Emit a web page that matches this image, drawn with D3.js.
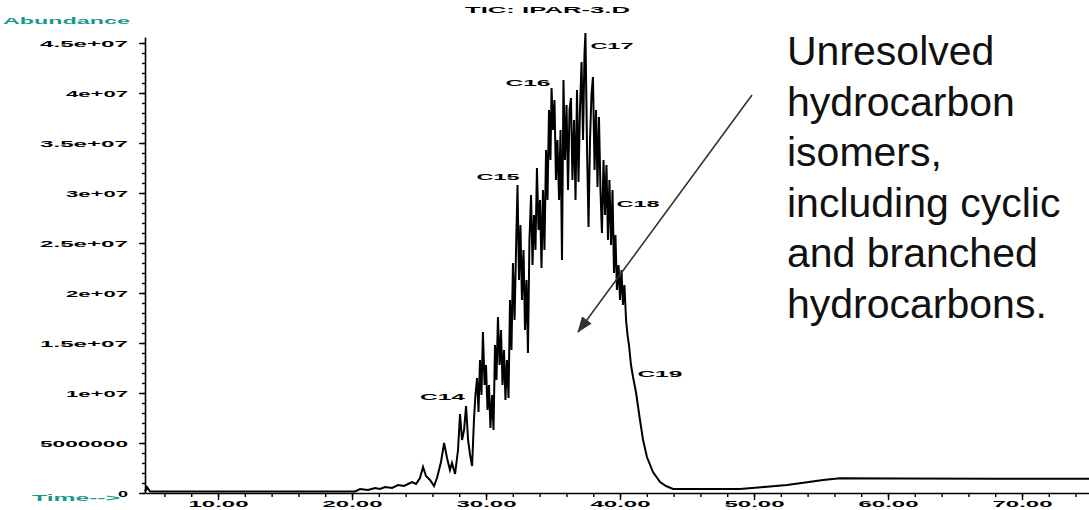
<!DOCTYPE html>
<html>
<head>
<meta charset="utf-8">
<script src="https://cdn.jsdelivr.net/npm/d3@7/dist/d3.min.js"></script>
<style>
  html, body { margin: 0; padding: 0; background: #fff; }
  svg { display: block; }
</style>
</head>
<body>
<svg id="chart" width="1089" height="510"></svg>
<script>
// Total ion chromatogram: retention time (min) and abundance (millions of counts)
const retentionTime = [
  4.55, 4.70, 4.93, 20.22, 20.60, 21.19, 21.72, 22.09, 22.46, 22.99,
  23.43, 23.88, 24.18, 24.48, 24.78, 25.07, 25.30, 25.52, 25.82, 26.12,
  26.34, 26.64, 26.87, 27.09, 27.31, 27.46, 27.69, 27.91, 28.06, 28.21,
  28.36, 28.51, 28.66, 28.81, 28.96,
  29.10, 29.21, 29.33, 29.44, 29.55, 29.66, 29.77, 29.89, 30.00, 30.11,
  30.22, 30.33, 30.45, 30.56, 30.67, 30.78, 30.89, 31.01, 31.12, 31.23,
  31.34, 31.45, 31.56, 31.68, 31.79, 31.90, 32.01, 32.13, 32.24, 32.35,
  32.46, 32.57, 32.68, 32.80, 32.91, 33.02, 33.13, 33.24, 33.36, 33.47,
  33.58, 33.69, 33.80, 33.92, 34.03, 34.14, 34.25, 34.36, 34.48, 34.59,
  34.70, 34.81, 34.89, 35.00, 35.11, 35.22, 35.33, 35.45, 35.56, 35.67,
  35.78, 35.89, 36.01, 36.12, 36.23, 36.34, 36.45, 36.57, 36.68, 36.79,
  36.90, 37.01, 37.13, 37.24, 37.35, 37.42, 37.54, 37.65, 37.76, 37.87,
  37.98, 38.10, 38.21, 38.32, 38.43, 38.54, 38.65, 38.77, 38.88, 38.99,
  39.10, 39.21, 39.33, 39.44, 39.55, 39.66, 39.77, 39.89, 40.00, 40.11,
  40.22, 40.33, 40.45, 40.56, 40.67, 40.82, 40.97, 41.19, 41.49,
  41.72, 42.01, 42.46, 42.99, 43.43, 43.96,
  48.96, 50.97, 52.46, 53.96, 55.15, 56.42, 60.90, 68.36, 75.00
];
const abundanceM = [
  0.15, 0.6, 0.15, 0.15, 0.4, 0.3, 0.5, 0.4, 0.6, 0.5,
  0.8, 0.7, 0.9, 1.1, 0.9, 1.5, 2.6, 1.7, 1.3, 0.7,
  1.5, 3.1, 5.0, 3.5, 2.3, 3.0, 1.9, 4.3, 7.9, 5.3,
  6.3, 8.7, 5.3, 3.8, 2.7,
  7.3, 9.8, 11.5, 8.1, 13.3, 9.8, 16.1, 10.8, 12.8, 8.3,
  10.8, 6.5, 9.8, 6.3, 14.8, 11.3, 17.6, 12.8, 16.3, 10.8,
  14.3, 9.3, 13.3, 9.5, 19.3, 14.3, 23.0, 17.3, 24.3, 30.8,
  21.3, 26.8, 19.3, 24.3, 16.3, 21.3, 14.0, 25.3, 29.8, 22.8,
  27.8, 24.3, 32.5, 26.3, 29.3, 22.5, 30.3, 24.3, 34.3, 29.3,
  38.3, 33.3, 40.5, 36.3, 39.3, 31.3, 35.3, 29.3, 36.3, 23.3,
  41.3, 33.3, 38.8, 30.3, 38.3, 39.5, 31.3, 37.3, 29.3, 40.3,
  31.1, 38.3, 43.1, 35.3, 44.0, 46.0, 34.3, 26.6, 35.3, 39.8,
  41.6, 32.3, 38.3, 30.6, 37.6, 30.3, 26.0, 33.3, 27.8, 32.8,
  25.3, 31.3, 24.8, 30.3, 22.0, 25.8, 20.3, 22.8, 19.3, 22.3,
  18.8, 20.8, 17.3, 15.8, 14.8, 12.8, 11.6, 10.1, 7.3,
  5.3, 3.6, 2.1, 1.1, 0.7, 0.4,
  0.4, 0.63, 0.8, 1.07, 1.3, 1.47, 1.45, 1.43, 1.43
];

// n-alkane peak labels
const peakNames = ["C14", "C15", "C16", "C17", "C18", "C19"];
const peakTimes = [25.3, 32.35, 34.89, 37.42, 39.6, 41.0];
const peakLabelAbundanceM = [9.6, 31.6, 41.0, 44.7, 28.9, 11.9];

// Axis ticks
const yTickValues = [0, 5e6, 1e7, 1.5e7, 2e7, 2.5e7, 3e7, 3.5e7, 4e7, 4.5e7];
const yTickLabels = ["0", "5000000", "1e+07", "1.5e+07", "2e+07", "2.5e+07", "3e+07", "3.5e+07", "4e+07", "4.5e+07"];
const xTickValues = [10, 20, 30, 40, 50, 60, 70];
const xTickLabels = ["10.00", "20.00", "30.00", "40.00", "50.00", "60.00", "70.00"];

const annotationLines = [
  "Unresolved",
  "hydrocarbon",
  "isomers,",
  "including cyclic",
  "and branched",
  "hydrocarbons."
];

const UNIT = 1e6;
const svg = d3.select("#chart");
const teal = "#17998f";
const labelFont = "'Liberation Sans', Arial, sans-serif";

const x = d3.scaleLinear().domain([4.55, 75.0]).range([145, 1089]);
const y = d3.scaleLinear().domain([0, 4.56e7]).range([493, 37]);

// stretched instrument-style text
function wideText(sel, txt, w, size) {
  sel.text(txt)
    .attr("font-family", labelFont)
    .attr("font-weight", "bold")
    .attr("font-size", size || 9)
    .attr("textLength", w)
    .attr("lengthAdjust", "spacingAndGlyphs");
  return sel;
}

// Y axis: minor ticks every 1e6, major every 5e6
const yMinor = d3.range(0, 4.56e7, 1e6);
svg.append("g")
  .attr("transform", `translate(${x.range()[0]},0)`)
  .call(d3.axisLeft(y).tickValues(yMinor).tickSize(3).tickSizeOuter(0).tickFormat(""))
  .call(g => g.select(".domain").attr("stroke", "#000").attr("stroke-width", 1.6))
  .call(g => g.selectAll(".tick line").attr("stroke", "#000").attr("stroke-width", 1.4));

const yAxisG = svg.append("g")
  .attr("transform", `translate(${x.range()[0]},0)`)
  .call(d3.axisLeft(y).tickValues(yTickValues).tickSize(6).tickSizeOuter(0)
    .tickFormat((d, i) => yTickLabels[i]));
yAxisG.select(".domain").remove();
yAxisG.selectAll(".tick line").attr("stroke", "#000").attr("stroke-width", 1.4);
yAxisG.selectAll(".tick text").each(function (d, i) {
  const t = yTickLabels[i];
  const w = t.length * 13 - 3;
  wideText(d3.select(this), t, w)
    .attr("text-anchor", "start")
    .attr("x", -17 - w)
    .attr("dy", "0.36em")
    .attr("fill", "#000");
});

// X axis: minor ticks every 2 min, major every 10 min
const xMinor = d3.range(6, 75, 2);
svg.append("g")
  .attr("transform", `translate(0,${y.range()[0]})`)
  .call(d3.axisBottom(x).tickValues(xMinor).tickSize(4).tickSizeOuter(0).tickFormat(""))
  .call(g => g.select(".domain").attr("stroke", "#000").attr("stroke-width", 1.6))
  .call(g => g.selectAll(".tick line").attr("stroke", "#000").attr("stroke-width", 1.4));

const xAxisG = svg.append("g")
  .attr("transform", `translate(0,${y.range()[0]})`)
  .call(d3.axisBottom(x).tickValues(xTickValues).tickSize(7).tickSizeOuter(0)
    .tickFormat((d, i) => xTickLabels[i]));
xAxisG.select(".domain").remove();
xAxisG.selectAll(".tick line").attr("stroke", "#000").attr("stroke-width", 1.4);
xAxisG.selectAll(".tick text").each(function (d, i) {
  const w = 60;
  wideText(d3.select(this), xTickLabels[i], w)
    .attr("text-anchor", "start")
    .attr("x", -w / 2)
    .attr("y", 8)
    .attr("dy", "0.71em")
    .attr("fill", "#000");
});

// Chromatogram trace
const series = retentionTime.map((t, i) => ({ t, v: abundanceM[i] * UNIT }));
svg.append("path")
  .datum(series)
  .attr("fill", "none")
  .attr("stroke", "#000")
  .attr("stroke-width", 2)
  .attr("stroke-linejoin", "miter")
  .attr("d", d3.line().x(d => x(d.t)).y(d => y(d.v)));

// Peak labels
const peakWidths = [45, 43, 45, 43, 43, 45];
const peakOffsets = [-3, -41, -46, 5, 2, 4];
peakNames.forEach((name, i) => {
  wideText(svg.append("text"), name, peakWidths[i])
    .attr("x", x(peakTimes[i]) + peakOffsets[i])
    .attr("y", y(peakLabelAbundanceM[i] * UNIT))
    .attr("dy", "0.36em")
    .attr("fill", "#000");
});

// Title and axis captions
wideText(svg.append("text"), "TIC: IPAR-3.D", 165)
  .attr("x", 465).attr("y", 12.5).attr("fill", "#000");
wideText(svg.append("text"), "Abundance", 127)
  .attr("x", 3).attr("y", 23.5).attr("fill", teal);
wideText(svg.append("text"), "Time-->", 88)
  .attr("x", 32).attr("y", 500.5).attr("fill", teal);

// Annotation
const note = svg.append("text")
  .attr("font-family", labelFont)
  .attr("font-size", 41)
  .attr("fill", "#111");
annotationLines.forEach((line, i) => {
  note.append("tspan").attr("x", 787).attr("y", 65 + i * 50.5).text(line);
});

// Arrow pointing into the unresolved hump
const arrowStart = [752, 95];
const arrowEnd = [578, 332];
svg.append("defs").append("marker")
  .attr("id", "arrowhead")
  .attr("viewBox", "0 0 16 12")
  .attr("refX", 15).attr("refY", 6)
  .attr("markerWidth", 16).attr("markerHeight", 12)
  .attr("markerUnits", "userSpaceOnUse")
  .attr("orient", "auto")
  .append("path")
  .attr("d", "M0,0 L16,6 L0,12 z")
  .attr("fill", "#333");
svg.append("line")
  .attr("x1", arrowStart[0]).attr("y1", arrowStart[1])
  .attr("x2", arrowEnd[0]).attr("y2", arrowEnd[1])
  .attr("stroke", "#333")
  .attr("stroke-width", 1.6)
  .attr("marker-end", "url(#arrowhead)");
</script>
</body>
</html>
